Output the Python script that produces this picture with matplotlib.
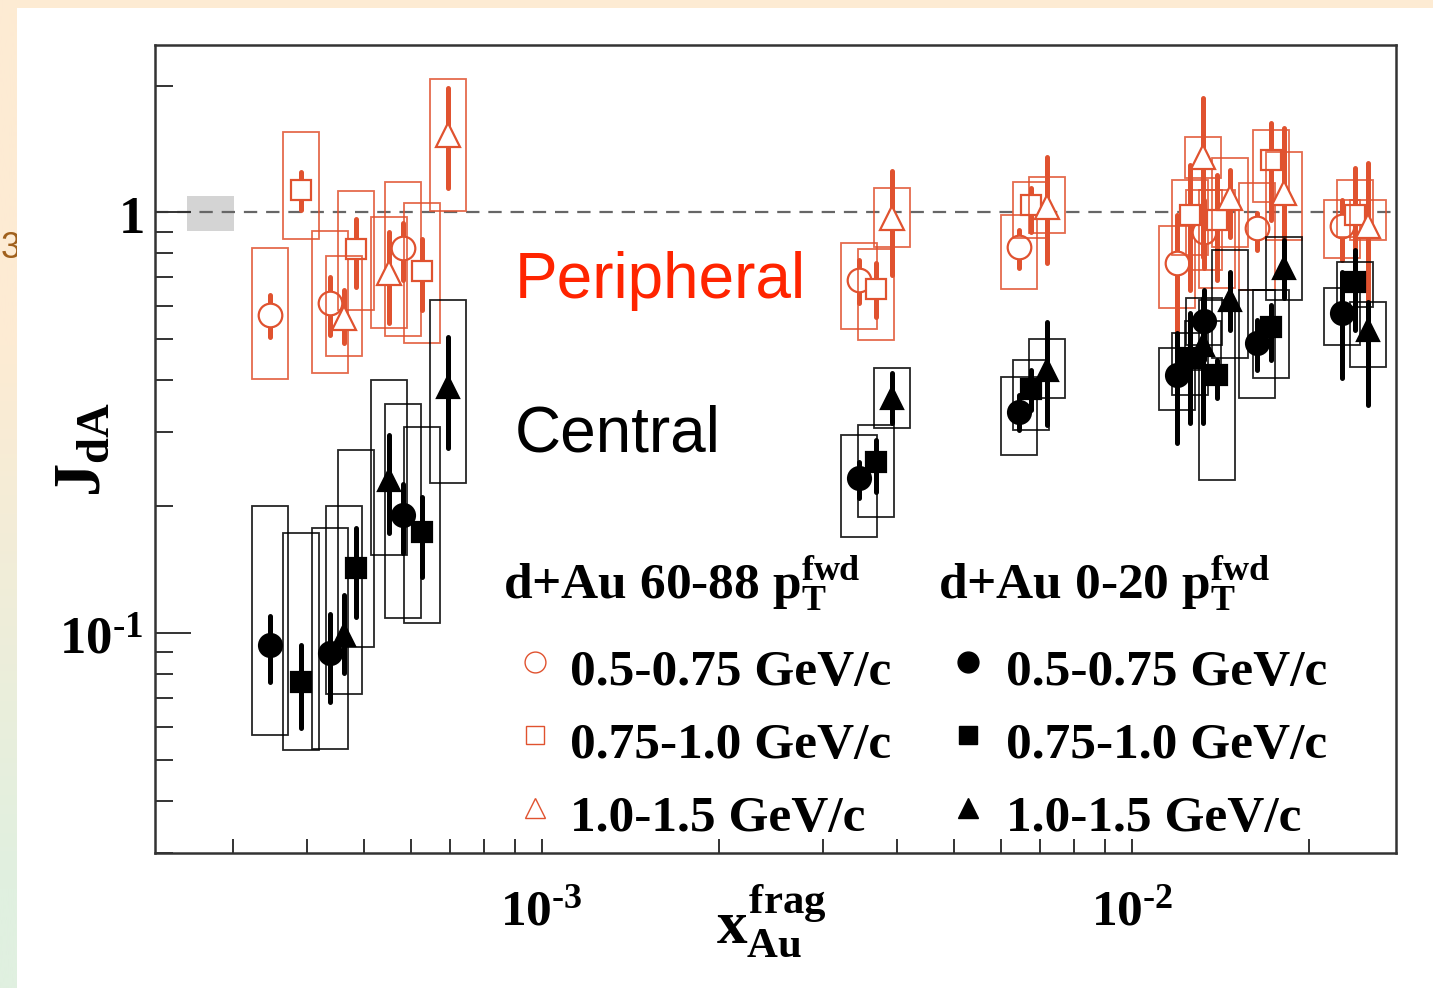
import numpy as np
import matplotlib
matplotlib.use("Agg")
import matplotlib.pyplot as plt
from matplotlib.patches import Rectangle

plt.rcParams['mathtext.fontset'] = 'custom'
plt.rcParams['mathtext.rm'] = 'Liberation Serif:bold'
plt.rcParams['mathtext.it'] = 'Liberation Serif:bold'
plt.rcParams['mathtext.bf'] = 'Liberation Serif:bold'

# ---------------- data: J_dA vs x_Au^frag ----------------
# d+Au 60-88% (peripheral), three forward pT bins
per_05_x = [3.47e-4, 4.38e-4, 5.82e-4, 3.45e-3, 6.44e-3, 1.194e-2, 1.326e-2, 1.631e-2, 2.272e-2]
per_05_y = [0.570, 0.608, 0.821, 0.6905, 0.826, 0.758, 0.898, 0.918, 0.928]
per_05_stat_lo = [0.506, 0.511, 0.691, 0.608, 0.736, 0.511, 0.738, 0.814, 0.770]
per_05_stat_hi = [0.636, 0.703, 0.945, 0.770, 0.908, 0.985, 1.070, 0.996, 1.070]
per_05_sys_lo = [0.402, 0.4145, 0.508, 0.527, 0.6565, 0.592, 0.729, 0.654, 0.779]
per_05_sys_hi = [0.824, 0.904, 1.182, 0.847, 0.985, 0.928, 1.130, 1.174, 1.070]

per_075_x = [3.91e-4, 4.85e-4, 6.28e-4, 3.69e-3, 6.75e-3, 1.256e-2, 1.395e-2, 1.722e-2, 2.389e-2]
per_075_y = [1.130, 0.817, 0.725, 0.6565, 1.041, 0.985, 0.959, 1.331, 0.985]
per_075_stat_lo = [1.013, 0.666, 0.586, 0.565, 0.899, 0.654, 0.691, 0.959, 0.750]
per_075_stat_hi = [1.249, 0.962, 0.864, 0.756, 1.140, 1.296, 1.226, 1.630, 1.274]
per_075_sys_lo = [0.864, 0.586, 0.488, 0.497, 0.868, 0.792, 0.661, 1.058, 0.874]
per_075_sys_hi = [1.549, 1.124, 1.054, 0.817, 1.182, 1.193, 1.130, 1.569, 1.193]

per_10_x = [4.63e-4, 5.52e-4, 6.95e-4, 3.92e-3, 7.18e-3, 1.323e-2, 1.468e-2, 1.811e-2, 2.515e-2]
per_10_y = [0.560, 0.716, 1.526, 0.968, 1.031, 1.353, 1.081, 1.111, 0.928]
per_10_stat_lo = [0.488, 0.545, 1.140, 0.710, 0.756, 0.783, 0.874, 0.814, 0.555]
per_10_stat_hi = [0.654, 0.899, 1.970, 1.255, 1.355, 1.868, 1.260, 1.586, 1.310]
per_10_sys_lo = [0.456, 0.530, 1.007, 0.826, 0.892, 1.206, 0.827, 0.859, 0.859]
per_10_sys_hi = [0.787, 0.976, 2.073, 1.140, 1.215, 1.510, 1.346, 1.391, 1.070]

# d+Au 0-20% (central)
cen_05_x = per_05_x
cen_05_y = [0.0938, 0.0897, 0.191, 0.2334, 0.336, 0.411, 0.552, 0.489, 0.576]
cen_05_stat_lo = [0.0767, 0.0688, 0.1549, 0.2092, 0.304, 0.283, 0.446, 0.422, 0.404]
cen_05_stat_hi = [0.110, 0.111, 0.2263, 0.2556, 0.368, 0.517, 0.654, 0.555, 0.721]
cen_05_sys_lo = [0.0573, 0.0530, 0.1085, 0.1696, 0.265, 0.339, 0.484, 0.362, 0.484]
cen_05_sys_hi = [0.200, 0.1776, 0.350, 0.2958, 0.4055, 0.476, 0.626, 0.654, 0.661]

cen_075_x = per_075_x
cen_075_y = [0.0767, 0.1427, 0.1743, 0.2556, 0.380, 0.451, 0.411, 0.534, 0.683]
cen_075_stat_lo = [0.0595, 0.1095, 0.1363, 0.217, 0.339, 0.316, 0.362, 0.446, 0.525]
cen_075_stat_hi = [0.0938, 0.178, 0.2111, 0.2877, 0.422, 0.576, 0.446, 0.602, 0.814]
cen_075_sys_lo = [0.0528, 0.0926, 0.1056, 0.1892, 0.304, 0.368, 0.231, 0.404, 0.596]
cen_075_sys_hi = [0.1734, 0.2725, 0.3095, 0.3125, 0.4458, 0.517, 0.619, 0.654, 0.762]

cen_10_x = per_10_x
cen_10_y = [0.0991, 0.2312, 0.385, 0.3616, 0.422, 0.484, 0.619, 0.738, 0.525]
cen_10_stat_lo = [0.0804, 0.1734, 0.275, 0.3153, 0.3125, 0.316, 0.525, 0.626, 0.348]
cen_10_stat_hi = [0.1233, 0.2958, 0.506, 0.4145, 0.5497, 0.626, 0.721, 0.859, 0.612]
cen_10_sys_lo = [0.0716, 0.1535, 0.227, 0.3068, 0.3616, 0.422, 0.451, 0.619, 0.429]
cen_10_sys_hi = [0.200, 0.3996, 0.619, 0.426, 0.499, 0.552, 0.814, 0.874, 0.612]

# global normalisation uncertainty band at J_dA = 1
norm_x = [2.51e-4, 3.01e-4]
norm_y = [0.903, 1.093]

pt_labels = ['0.5-0.75 GeV/c', '0.75-1.0 GeV/c', '1.0-1.5 GeV/c']
per_header = r'd+Au 60-88 $\mathrm{p}_\mathrm{T}^\mathrm{fwd}$'
cen_header = r'd+Au 0-20 $\mathrm{p}_\mathrm{T}^\mathrm{fwd}$'
HY = '\u2010'  # short hyphen used in the exponent labels
x_tick_vals = [1e-3, 1e-2]
x_tick_text = [r'$10^{%s3}$' % HY, r'$10^{%s2}$' % HY]
y_tick_vals = [0.1, 1.0]
y_tick_text = [r'$10^{%s1}$' % HY, r'$1$']

# ---------------- style ----------------
RED = '#E0522F'
BLACK = '#000000'
BOX_HALF = 10 ** 0.0305   # half-width of systematic boxes (multiplicative, log x)
W, H, DPI = 1433, 988, 100

fig = plt.figure(figsize=(W / DPI, H / DPI), dpi=DPI)
fig.patch.set_facecolor('#FDEBD3')

# slide backdrop: peach frame with a green tint lower left, white panel
bg = fig.add_axes([0, 0, 1, 1], zorder=-10)
bg.set_axis_off()
bg.set_xlim(0, W)
bg.set_ylim(H, 0)
t = np.linspace(0, 1, H)
peach = np.array([253, 235, 211]) / 255.0
green = np.array([224, 240, 224]) / 255.0
mix = np.clip((t - 0.35) / 0.55, 0, 1)[:, None]
strip = (peach * (1 - mix) + green * mix)[:, None, :]
bg.imshow(strip, extent=[0, 17, H, 0], aspect='auto', zorder=0)
bg.text(1, 248, '3', fontsize=26, color='#A0601C', family='Liberation Sans',
        va='center', ha='left', zorder=1)
bg.add_patch(Rectangle((17, 8), W - 17, H - 8, facecolor='white', edgecolor='none', zorder=2))

ax = fig.add_axes([154.5 / W, 1 - 853.3 / H, (1396 - 154.5) / W, (853.3 - 45) / H])
ax.set_xscale('log')
ax.set_yscale('log')
ax.set_xlim(2.207e-4, 2.806e-2)
ax.set_ylim(0.03001, 2.497)
ax.set_facecolor('none')

# reference line and normalisation band
ax.add_patch(Rectangle((norm_x[0], norm_y[0]), norm_x[1] - norm_x[0], norm_y[1] - norm_y[0],
                       facecolor='#D4D4D4', edgecolor='none', zorder=1))
ax.axhline(1.0, color='#666666', lw=1.6, dashes=(6, 4), zorder=1.5)


def draw_series(x, y, slo, shi, ylo, yhi, color, marker, filled, ms, z):
    x = np.asarray(x)
    for xi, lo, hi in zip(x, ylo, yhi):
        ax.add_patch(Rectangle((xi / BOX_HALF, lo), xi * BOX_HALF - xi / BOX_HALF, hi - lo,
                               fill=False, edgecolor=color, lw=1.3, alpha=0.85, zorder=z))
    lc = ax.vlines(x, slo, shi, colors=color, lw=3.6, zorder=z + 0.1)
    lc.set_capstyle('round')
    ax.plot(x, y, ls='none', marker=marker, ms=ms,
            mfc=color if filled else 'white', mec=color,
            mew=1.6, zorder=z + 0.2)


MARKERS = ['o', 's', '^']
MS = [17, 15, 17]
per_sets = [
    (per_05_x, per_05_y, per_05_stat_lo, per_05_stat_hi, per_05_sys_lo, per_05_sys_hi),
    (per_075_x, per_075_y, per_075_stat_lo, per_075_stat_hi, per_075_sys_lo, per_075_sys_hi),
    (per_10_x, per_10_y, per_10_stat_lo, per_10_stat_hi, per_10_sys_lo, per_10_sys_hi),
]
cen_sets = [
    (cen_05_x, cen_05_y, cen_05_stat_lo, cen_05_stat_hi, cen_05_sys_lo, cen_05_sys_hi),
    (cen_075_x, cen_075_y, cen_075_stat_lo, cen_075_stat_hi, cen_075_sys_lo, cen_075_sys_hi),
    (cen_10_x, cen_10_y, cen_10_stat_lo, cen_10_stat_hi, cen_10_sys_lo, cen_10_sys_hi),
]
for i, s in enumerate(per_sets):
    draw_series(*s, color=RED, marker=MARKERS[i], filled=False, ms=MS[i], z=2 + i * 0.3)
for i, s in enumerate(cen_sets):
    draw_series(*s, color=BLACK, marker=MARKERS[i], filled=True, ms=MS[i] - 0.5, z=4 + i * 0.3)

# axes cosmetics
for sp in ax.spines.values():
    sp.set_linewidth(1.8)
    sp.set_color('#333333')
ax.set_xticks(x_tick_vals)
ax.set_xticklabels(x_tick_text)
ax.set_xticks([k * 10.0 ** e for e in (-4, -3, -2) for k in range(2, 10)
               if 2.207e-4 < k * 10.0 ** e < 2.806e-2], minor=True)
ax.set_yticks(y_tick_vals)
ax.set_yticklabels(y_tick_text)
ax.set_yticks([k * 10.0 ** e for e in (-2, -1, 0) for k in range(2, 10)
               if 0.03 <= k * 10.0 ** e < 2.497], minor=True)
ax.xaxis.set_minor_formatter(plt.NullFormatter())
ax.yaxis.set_minor_formatter(plt.NullFormatter())
ax.tick_params(axis='both', which='both', direction='in', top=False, right=False,
               color='#333333', width=1.4)
ax.tick_params(axis='x', which='both', length=10, pad=23, labelsize=37)
ax.tick_params(axis='y', which='major', length=26, pad=8, labelsize=38)
ax.tick_params(axis='y', which='minor', length=13)

ax.set_xlabel(r'$x_{Au}^{frag}$', fontsize=44)
ax.xaxis.set_label_coords(0.497, -0.035)
ax.set_ylabel(r'$J_{dA}$', fontsize=48)
ax.yaxis.set_label_coords(-0.033, 0.499)

# group labels
ax.text(0.2904, 0.687, 'Peripheral', transform=ax.transAxes, color='#FF2400',
        family='Liberation Sans', fontsize=46, va='baseline', ha='left')
ax.text(0.2904, 0.4965, 'Central', transform=ax.transAxes, color='black',
        family='Liberation Sans', fontsize=46, va='baseline', ha='left')

# two-column legend
LEG_FS = 37
row_mark = [0.2367, 0.1464, 0.0561]
row_text = [0.2083, 0.1180, 0.0276]
head_y = 0.3134
columns = [
    (0.2807, 0.3065, 0.3347, per_header, RED, False),
    (0.6312, 0.6553, 0.6859, cen_header, BLACK, True),
]
for xh, xm, xt, header, col, filled in columns:
    ax.text(xh, head_y, header, transform=ax.transAxes, fontsize=LEG_FS,
            family='Liberation Serif', weight='bold', va='baseline', ha='left')
    for k in range(3):
        ax.plot([xm], [row_mark[k]], transform=ax.transAxes, clip_on=False, ls='none',
                marker=MARKERS[k], ms=MS[k] - 2, mfc=col if filled else 'white', mec=col,
                mew=1.0, zorder=10)
        ax.text(xt, row_text[k], pt_labels[k], transform=ax.transAxes, fontsize=LEG_FS,
                family='Liberation Serif', weight='bold', va='baseline', ha='left')

fig.savefig('out.png', dpi=DPI)
